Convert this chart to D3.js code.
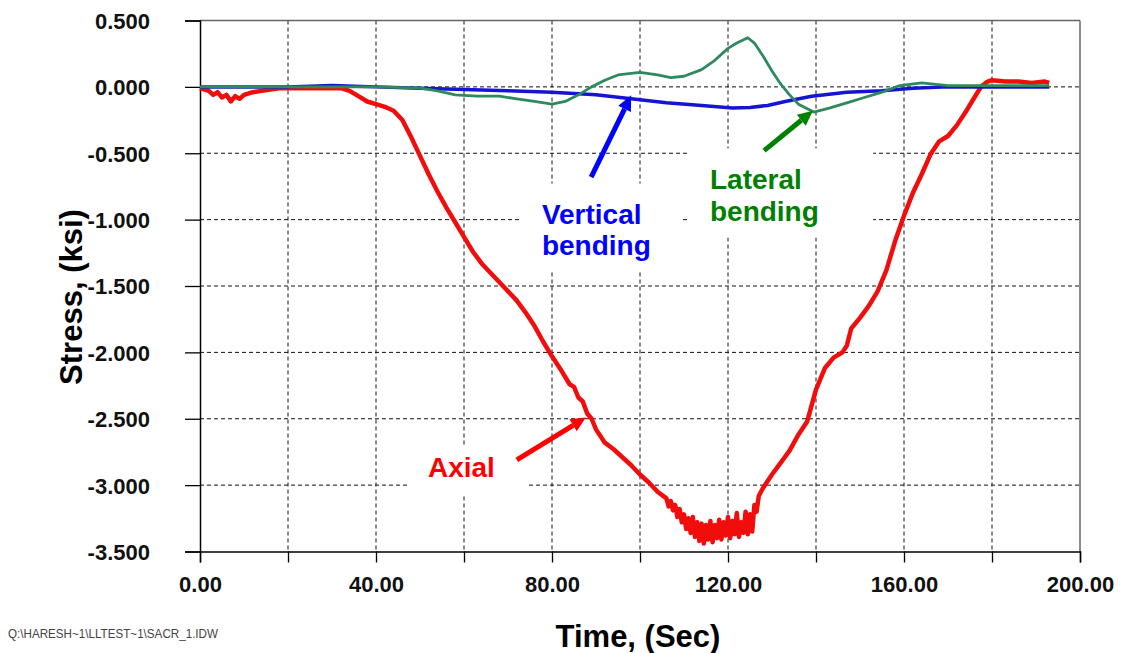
<!DOCTYPE html>
<html>
<head>
<meta charset="utf-8">
<script src="https://cdn.jsdelivr.net/npm/d3@7"></script>
<style>
  body { margin: 0; background: #fff; }
  svg { display: block; font-family: "Liberation Sans", Arial, sans-serif; }
</style>
</head>
<body>
<svg width="1122" height="653"></svg>
<script>
// ---- data: [time (sec), stress (ksi)] ----
let axial = [
  [0, -0.01], [2, -0.03], [3, -0.06], [4, -0.04], [5, -0.08], [6, -0.06], [7, -0.11],
  [8, -0.07], [9, -0.09], [10, -0.06], [12, -0.04], [14, -0.03], [16, -0.02],
  [18, -0.01], [22, -0.01], [26, -0.01], [30, -0.01], [32, -0.01], [34, -0.03],
  [36, -0.07], [38, -0.11], [40, -0.13], [42, -0.15], [44, -0.18], [46, -0.25],
  [48, -0.38], [50, -0.52], [52, -0.66], [54, -0.79], [56, -0.91], [58, -1.02],
  [60, -1.13], [62, -1.24], [64, -1.33], [66, -1.40], [68, -1.47], [70, -1.54],
  [72, -1.61], [74, -1.70], [76, -1.80], [78, -1.92], [80, -2.03], [82, -2.13],
  [84, -2.24], [85, -2.26], [86, -2.34], [87, -2.37], [88, -2.46], [89, -2.50],
  [90, -2.58], [92, -2.68], [94, -2.73], [96, -2.79], [98, -2.85], [100, -2.92],
  [102, -2.98], [104, -3.05], [106, -3.10], [106.5, -3.16], [107, -3.12], [107.5, -3.19],
  [108, -3.15], [108.5, -3.24], [109, -3.18], [109.5, -3.28], [110, -3.22], [110.5, -3.33],
  [111, -3.25], [111.5, -3.36], [112, -3.24], [112.5, -3.39], [113, -3.28], [113.5, -3.42],
  [114, -3.29], [114.5, -3.44], [115, -3.30], [115.5, -3.41], [116, -3.27], [116.5, -3.43],
  [117, -3.30], [117.5, -3.40], [118, -3.26], [118.5, -3.41], [119, -3.28], [119.5, -3.38],
  [120, -3.24], [120.5, -3.40], [121, -3.27], [121.5, -3.37], [122, -3.21], [122.5, -3.39],
  [123, -3.28], [123.5, -3.36], [124, -3.20], [124.5, -3.37], [125, -3.22], [125.5, -3.35],
  [126, -3.15], [126.5, -3.20], [127, -3.08], [128, -3.02], [130, -2.92], [132, -2.83],
  [134, -2.74], [136, -2.62], [138, -2.52], [140, -2.28], [142, -2.12], [144, -2.04],
  [146, -2.00], [147, -1.95], [148, -1.82], [150, -1.74], [152, -1.65], [154, -1.54],
  [156, -1.38], [158, -1.16], [160, -0.97], [162, -0.80], [164, -0.66], [166, -0.51],
  [168, -0.41], [170, -0.37], [172, -0.29], [174, -0.19], [176, -0.08], [177.5, 0.00],
  [179, 0.04], [180, 0.05], [183, 0.04], [186, 0.04], [189, 0.03], [192, 0.04], [193, 0.03]
];

let vertical = [
  [0, 0.00], [10, 0.00], [20, 0.00], [30, 0.01], [40, 0.00], [50, -0.01], [60, -0.02],
  [70, -0.03], [80, -0.04], [90, -0.06], [98, -0.09], [106, -0.12], [114, -0.14],
  [121, -0.16], [125, -0.155], [129, -0.14], [133, -0.11], [139, -0.07], [147, -0.04],
  [155, -0.03], [162, -0.01], [170, 0.00], [180, 0.00], [193, 0.00]
];

let lateral = [
  [0, 0.00], [10, 0.00], [20, 0.00], [30, 0.00], [40, 0.00], [50, -0.01], [54, -0.03],
  [58, -0.06], [63, -0.07], [68, -0.07], [72, -0.09], [76, -0.11], [80, -0.13],
  [83, -0.11], [86, -0.06], [89, 0.00], [92, 0.05], [95, 0.09], [100, 0.11], [104, 0.09],
  [107, 0.07], [110, 0.08], [114, 0.13], [117, 0.20], [120, 0.29], [122, 0.33],
  [124.5, 0.37], [126, 0.33], [128, 0.23], [130, 0.12], [132, 0.02], [134, -0.06],
  [136, -0.13], [139.5, -0.19], [143, -0.16], [147, -0.12], [151, -0.08], [155, -0.04],
  [159, 0.01], [164, 0.03], [170, 0.01], [180, 0.01], [193, 0.01]
];

let yTickValues = [0.5, 0, -0.5, -1, -1.5, -2, -2.5, -3, -3.5];
let yTickLabels = ["0.500", "0.000", "-0.500", "-1.000", "-1.500", "-2.000", "-2.500", "-3.000", "-3.500"];
let xTickValues = [0, 20, 40, 60, 80, 100, 120, 140, 160, 180, 200];
let xLabelValues = [0, 40, 80, 120, 160, 200];
let xTickLabels = ["0.00", "40.00", "80.00", "120.00", "160.00", "200.00"];

// ---- chart ----
let svg = d3.select("svg"),
    margin = {top: 20.5, right: 42, bottom: 101.5, left: 200},
    width = +svg.attr("width") - margin.left - margin.right,
    height = +svg.attr("height") - margin.top - margin.bottom,
    g = svg.append("g").attr("transform", "translate(" + margin.left + "," + margin.top + ")");

let x = d3.scaleLinear().domain([0, 200]).range([0, width]);
let y = d3.scaleLinear().domain([-3.5, 0.5]).range([height, 0]);

// grid
g.selectAll(".vgrid")
  .data(xTickValues.filter(function(d) { return d > 0 && d < 200; }))
  .enter().append("line")
    .attr("x1", function(d) { return x(d); })
    .attr("x2", function(d) { return x(d); })
    .attr("y1", 0).attr("y2", height)
    .attr("stroke", "#111").attr("stroke-width", 1)
    .attr("stroke-dasharray", "4,3");

g.selectAll(".hgrid")
  .data(yTickValues.filter(function(d) { return d < 0.5 && d > -3.5; }))
  .enter().append("line")
    .attr("y1", function(d) { return y(d); })
    .attr("y2", function(d) { return y(d); })
    .attr("x1", 0).attr("x2", width)
    .attr("stroke", "#111").attr("stroke-width", 1)
    .attr("stroke-dasharray", "4,3");

// annotation labels sit on white boxes which hide the grid
let notes = [
  {lines: ["Vertical", "bending"], t: 77.7, v: -1.03, color: "#0000ff", box: [73.2, 109.1, -0.727, -1.38],
   arrow: [[88.9, -0.68], [98.0, -0.064]]},
  {lines: ["Lateral", "bending"], t: 115.9, v: -0.77, color: "#008000", box: [110.9, 153, -0.463, -1.134],
   arrow: [[128.2, -0.48], [139.3, -0.18]]},
  {lines: ["Axial"], t: 51.8, v: -2.94, color: "#ff0000", box: [47.3, 74.5, -2.70, -3.08],
   arrow: [[72.0, -2.81], [87.7, -2.49]]}
];

g.selectAll(".notebox")
  .data(notes)
  .enter().append("rect")
    .attr("x", function(d) { return x(d.box[0]); })
    .attr("width", function(d) { return x(d.box[1]) - x(d.box[0]); })
    .attr("y", function(d) { return y(d.box[2]); })
    .attr("height", function(d) { return y(d.box[3]) - y(d.box[2]); })
    .attr("fill", "#fff");

// frame
g.append("line").attr("x1", 0).attr("x2", width).attr("y1", 0).attr("y2", 0)
  .attr("stroke", "#666").attr("stroke-width", 1.5);
g.append("line").attr("x1", width).attr("x2", width).attr("y1", 0).attr("y2", height)
  .attr("stroke", "#666").attr("stroke-width", 1.5);

// axes
let yAxis = d3.axisLeft(y)
  .tickValues(yTickValues)
  .tickSize(15)
  .tickPadding(35)
  .tickFormat(function(d, i) { return yTickLabels[i]; });

let xAxis = d3.axisBottom(x)
  .tickValues(xTickValues)
  .tickSize(11)
  .tickPadding(14)
  .tickFormat(function(d) {
    let i = xLabelValues.indexOf(d);
    return i < 0 ? "" : xTickLabels[i];
  });

let yGroup = g.append("g").call(yAxis);
let xGroup = g.append("g").attr("transform", "translate(0," + height + ")").call(xAxis);

[yGroup, xGroup].forEach(function(ax) {
  ax.select(".domain").attr("stroke", "#000").attr("stroke-width", 1.5);
  ax.selectAll(".tick line").attr("stroke", "#000").attr("stroke-width", 1.3);
  ax.selectAll(".tick text")
    .attr("fill", "#111")
    .style("font-family", "'Liberation Sans', Arial, sans-serif")
    .style("font-weight", "bold")
    .style("font-size", "22px");
});
yGroup.selectAll(".tick text").attr("dy", "0.36em");

// series
let line = d3.line()
  .x(function(d) { return x(d[0]); })
  .y(function(d) { return y(d[1]); });

let series = [
  {data: axial, color: "#f20d0d", w: 4.5},
  {data: vertical, color: "#1414d2", w: 3.5},
  {data: lateral, color: "#2e8a5c", w: 2.8}
];

g.selectAll(".series")
  .data(series)
  .enter().append("path")
    .attr("d", function(d) { return line(d.data); })
    .attr("fill", "none")
    .attr("stroke", function(d) { return d.color; })
    .attr("stroke-width", function(d) { return d.w; })
    .attr("stroke-linejoin", "round");

// annotation arrows and text
notes.forEach(function(n) {
  let x0 = x(n.arrow[0][0]), y0 = y(n.arrow[0][1]),
      x1 = x(n.arrow[1][0]), y1 = y(n.arrow[1][1]);
  let ang = Math.atan2(y1 - y0, x1 - x0),
      headLen = 15, headW = 7;
  let bx = x1 - headLen * Math.cos(ang), by = y1 - headLen * Math.sin(ang);
  g.append("line")
    .attr("x1", x0).attr("y1", y0).attr("x2", bx).attr("y2", by)
    .attr("stroke", n.color).attr("stroke-width", 5);
  g.append("path")
    .attr("d", "M" + x1 + "," + y1 +
      "L" + (bx + headW * Math.sin(ang)) + "," + (by - headW * Math.cos(ang)) +
      "L" + (bx - headW * Math.sin(ang)) + "," + (by + headW * Math.cos(ang)) + "Z")
    .attr("fill", n.color);
  let txt = g.append("text")
    .attr("x", x(n.t)).attr("y", y(n.v))
    .attr("fill", n.color)
    .style("font-weight", "bold")
    .style("font-size", "28px");
  n.lines.forEach(function(s, i) {
    txt.append("tspan").attr("x", x(n.t)).attr("dy", i === 0 ? 0 : "1.13em").text(s);
  });
});

// axis titles
svg.append("text")
  .attr("transform", "translate(82,297) rotate(-90)")
  .attr("text-anchor", "middle")
  .style("font-weight", "bold")
  .style("font-size", "31px")
  .text("Stress, (ksi)");

svg.append("text")
  .attr("x", 638).attr("y", 647)
  .attr("text-anchor", "middle")
  .style("font-weight", "bold")
  .style("font-size", "31px")
  .text("Time, (Sec)");

svg.append("text")
  .attr("x", 8).attr("y", 638)
  .attr("textLength", 210)
  .attr("lengthAdjust", "spacingAndGlyphs")
  .attr("fill", "#444")
  .style("font-size", "13px")
  .text("Q:\\HARESH~1\\LLTEST~1\\SACR_1.IDW");
</script>
</body>
</html>
